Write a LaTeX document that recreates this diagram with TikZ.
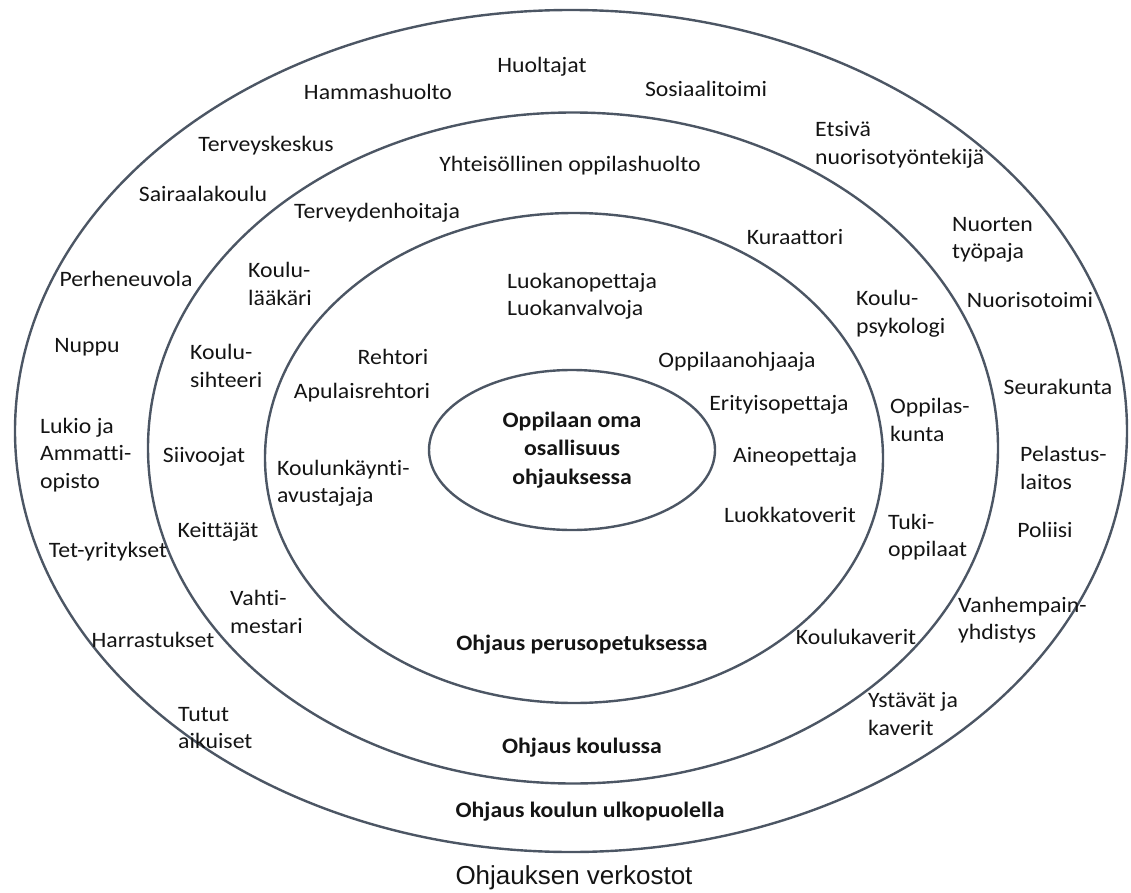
\documentclass[tikz,border=0pt]{standalone}
\usepackage{fontspec}
\setmainfont{Carlito}[FakeStretch=1.08, Ligatures=NoCommon]
\newfontfamily\captionfont{Liberation Sans}
\usepackage{tikz}
\usetikzlibrary{shapes.geometric}

\definecolor{ringline}{RGB}{76,86,100}
\definecolor{labeltext}{RGB}{20,20,20}

\begin{document}
\begin{tikzpicture}[
  x=1pt, y=-1pt,
  ring/.style = {ellipse, draw=ringline, line width=2.4pt, inner sep=0pt},
  lbl/.style = {inner sep=0pt, text=labeltext, font=\fontsize{22}{27.5}\selectfont},
  lblleft/.style = {lbl, align=left, anchor=west},
  title/.style = {lbl, font=\fontsize{22}{27.5}\selectfont\bfseries}
]
\useasboundingbox (0,0) rectangle (1131,893);

% Rings, from outside in
\node[ring, minimum width=1112pt, minimum height=842pt] at (571,431) (outer) {};
\node[ring, minimum width=850pt, minimum height=671pt] at (573,448) (middle) {};
\node[ring, minimum width=618pt, minimum height=490pt] at (574,458) (inner) {};
\node[ring, minimum width=286pt, minimum height=160pt, align=center, text=labeltext,
      font=\fontsize{22}{28.5}\selectfont\bfseries] at (572,450) (core) {Oppilaan oma\\osallisuus\\ohjauksessa};

% Outer ring: outside the school
\node[lbl] at (542,67) (huoltajat) {Huoltajat};
\node[lbl] at (378,92) (hammas) {Hammashuolto};
\node[lbl] at (706,89) (sosiaali) {Sosiaalitoimi};
\node[lbl] at (266,146) (terveyskeskus) {Terveyskeskus};
\node[lblleft] at (815,145) (etsiva) {Etsivä\\nuorisotyöntekijä};
\node[lbl] at (203,194) (sairaala) {Sairaalakoulu};
\node[lblleft] at (952,240) (nuorten) {Nuorten\\työpaja};
\node[lbl] at (126,279) (perhe) {Perheneuvola};
\node[lbl] at (1030,300) (nuorisotoimi) {Nuorisotoimi};
\node[lbl] at (87,347) (nuppu) {Nuppu};
\node[lblleft] at (40,455) (lukio) {Lukio ja\\Ammatti-\\opisto};
\node[lbl] at (1058,387) (seurakunta) {Seurakunta};
\node[lblleft] at (1020,468) (pelastus) {Pelastus-\\laitos};
\node[lbl] at (1045,530) (poliisi) {Poliisi};
\node[lbl] at (108,552) (tet) {Tet-yritykset};
\node[lblleft] at (958,620) (vanhempain) {Vanhempain-\\yhdistys};
\node[lbl] at (153,640) (harrastukset) {Harrastukset};
\node[lblleft] at (178,728) (tutut) {Tutut\\aikuiset};
\node[lblleft] at (868,714) (ystavat) {Ystävät ja\\kaverit};
\node[title] at (590,812) (ulkopuolella) {Ohjaus koulun ulkopuolella};

% Middle ring: the school
\node[lbl] at (570,166) (yhteis) {Yhteisöllinen oppilashuolto};
\node[lbl] at (377,213) (terveydenhoitaja) {Terveydenhoitaja};
\node[lbl] at (795,237) (kuraattori) {Kuraattori};
\node[lblleft] at (248,284) (laakari) {Koulu-\\lääkäri};
\node[lblleft] at (856,314) (psykologi) {Koulu-\\psykologi};
\node[lblleft] at (190,366) (sihteeri) {Koulu-\\sihteeri};
\node[lbl] at (204,457) (siivoojat) {Siivoojat};
\node[lblleft] at (890,420) (oppilaskunta) {Oppilas-\\kunta};
\node[lbl] at (218,532) (keittajat) {Keittäjät};
\node[lblleft] at (888,537) (tukioppilaat) {Tuki-\\oppilaat};
\node[lblleft] at (230,612) (vahtimestari) {Vahti-\\mestari};
\node[lbl] at (856,637) (koulukaverit) {Koulukaverit};
\node[title] at (582,748) (koulussa) {Ohjaus koulussa};

% Inner ring: basic education
\node[lblleft] at (507,296) (luokan) {Luokanopettaja\\Luokanvalvoja};
\node[lbl] at (393,357) (rehtori) {Rehtori};
\node[lbl] at (362,393) (apulais) {Apulaisrehtori};
\node[lblleft] at (277,483) (avustaja) {Koulunkäynti-\\avustajaja};
\node[lbl] at (737,362) (opo) {Oppilaanohjaaja};
\node[lbl] at (779,405) (erityis) {Erityisopettaja};
\node[lbl] at (795,457) (aine) {Aineopettaja};
\node[lbl] at (790,515) (luokkatoverit) {Luokkatoverit};
\node[title] at (582,645) (perusopetus) {Ohjaus perusopetuksessa};

% Caption
\node[inner sep=0pt, text=labeltext, font=\captionfont\fontsize{26}{30}\selectfont] at (574,878) (caption) {Ohjauksen verkostot};

\end{tikzpicture}
\end{document}
